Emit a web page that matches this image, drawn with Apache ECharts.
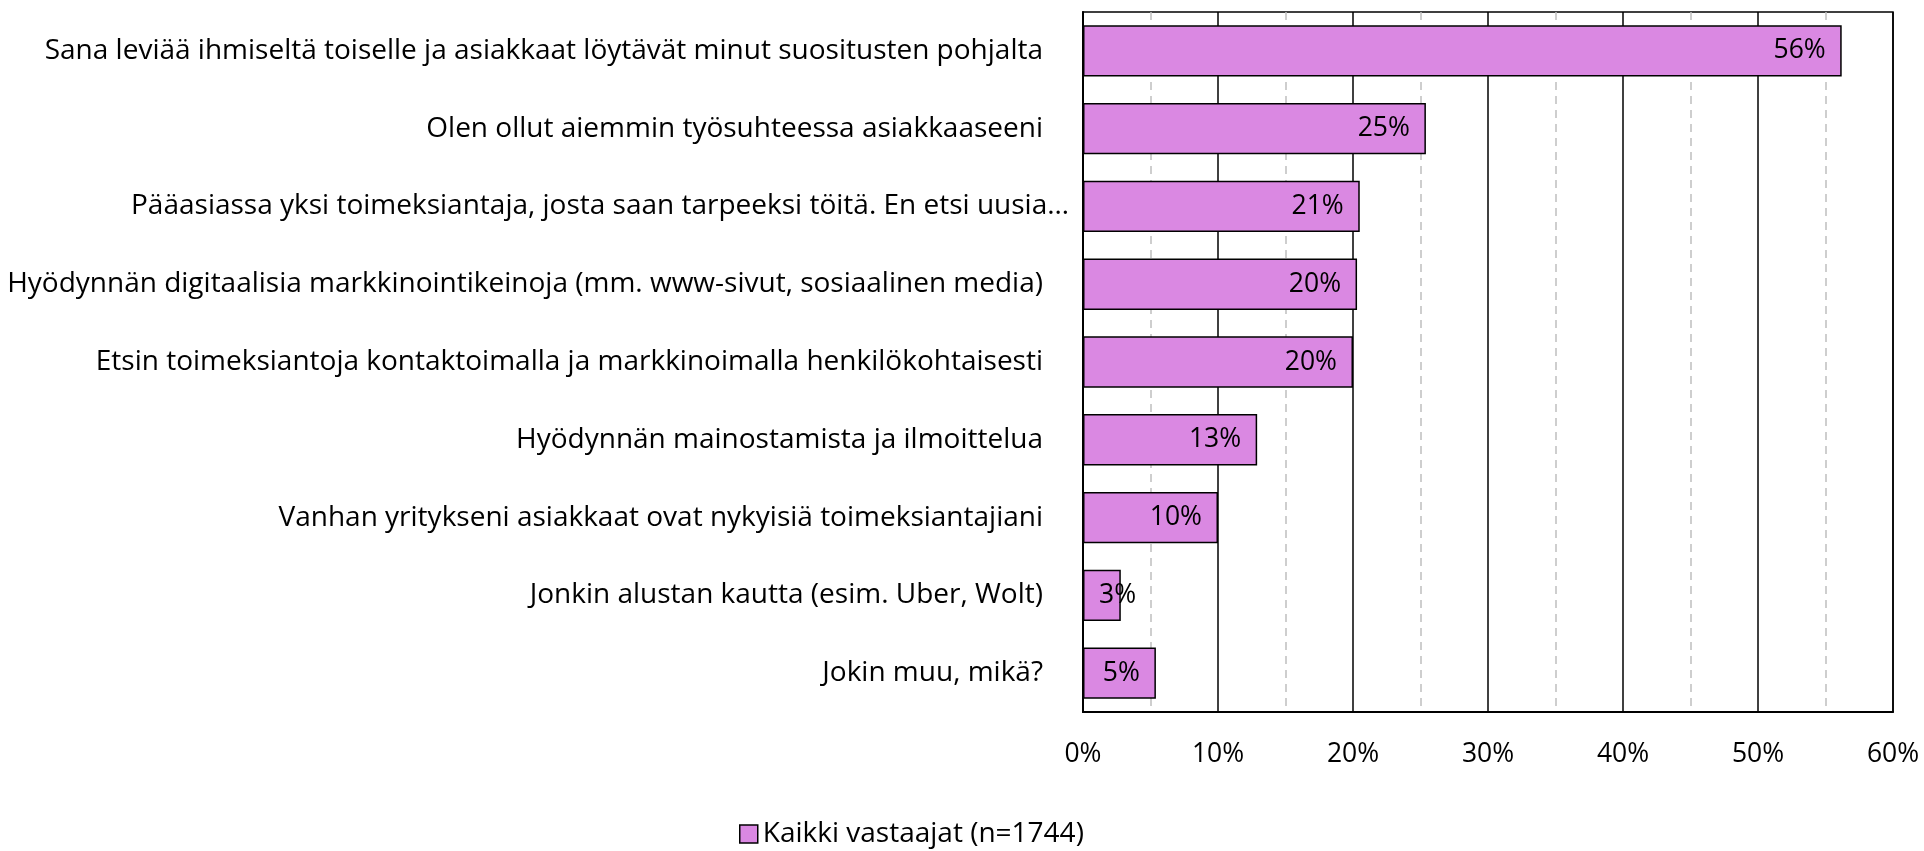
<!DOCTYPE html>
<html>
<head>
<meta charset="utf-8">
<script src="https://cdn.jsdelivr.net/npm/echarts@6/dist/echarts.min.js"></script>
<style>
html,body{margin:0;padding:0;background:#fff;}
#chart{width:1924px;height:851px;}
</style>
</head>
<body>
<div id="chart"></div>
<script>
var categories = [
  "Sana leviää ihmiseltä toiselle ja asiakkaat löytävät minut suositusten pohjalta",
  "Olen ollut aiemmin työsuhteessa asiakkaaseeni",
  "Pääasiassa yksi toimeksiantaja, josta saan tarpeeksi töitä. En etsi uusia…",
  "Hyödynnän digitaalisia markkinointikeinoja (mm. www-sivut, sosiaalinen media)",
  "Etsin toimeksiantoja kontaktoimalla ja markkinoimalla henkilökohtaisesti",
  "Hyödynnän mainostamista ja ilmoittelua",
  "Vanhan yritykseni asiakkaat ovat nykyisiä toimeksiantajiani",
  "Jonkin alustan kautta (esim. Uber, Wolt)",
  "Jokin muu, mikä?"
];
var values = [56.2, 25.4, 20.5, 20.3, 20.0, 12.9, 10.0, 2.8, 5.4];
var valueLabels = ["56%", "25%", "21%", "20%", "20%", "13%", "10%", "3%", "5%"];
var seriesName = "Kaikki vastaajat (n=1744)";
var xTicks = ["0%", "10%", "20%", "30%", "40%", "50%", "60%"];

var FONT = "Open Sans";
var FS = 26.5;
var FS_CAT = 28;
var chart = echarts.init(document.getElementById('chart'), null, {renderer: 'canvas'});

var data = values.map(function (v) {
  var item = {value: v};
  if (v < 4) {
    item.label = {position: 'insideLeft', distance: 16};
  }
  return item;
});

chart.setOption({
  animation: false,
  backgroundColor: '#ffffff',
  textStyle: {fontFamily: FONT},
  grid: {
    left: 1083, right: 31, top: 12, bottom: 139,
    show: true, borderColor: '#000', borderWidth: 1.5
  },
  legend: {
    left: 734, top: 815,
    itemWidth: 18, itemHeight: 18, itemGap: 8,
    icon: 'rect',
    textStyle: {fontFamily: FONT, fontSize: 28, color: '#000'},
    data: [{name: seriesName, itemStyle: {borderColor: '#000', borderWidth: 1.5}}]
  },
  xAxis: {
    type: 'value', min: 0, max: 60, interval: 10,
    axisLine: {show: true, lineStyle: {color: '#000', width: 2}},
    axisTick: {show: false},
    axisLabel: {
      fontFamily: FONT, fontSize: FS, color: '#000', margin: 29,
      formatter: function (v) { return xTicks[Math.round(v / 10)]; }
    },
    splitLine: {show: true, lineStyle: {color: '#000', width: 1.5}},
    minorTick: {show: false, splitNumber: 2},
    minorSplitLine: {show: true, lineStyle: {color: '#bfbfbf', width: 1.5, type: [8, 6]}}
  },
  yAxis: {
    type: 'category', inverse: true, data: categories,
    axisLine: {show: true, lineStyle: {color: '#000', width: 2}},
    axisTick: {show: false},
    axisLabel: {
      fontFamily: FONT, fontSize: FS_CAT, color: '#000', margin: 14,
      formatter: function (v) {
        return /…$/.test(v) ? '{e|' + v + '}' : '{n|' + v + '}';
      },
      rich: {
        n: {fontFamily: FONT, fontSize: FS_CAT, color: '#000', padding: [0, 26, 0, 0]},
        e: {fontFamily: FONT, fontSize: FS_CAT, color: '#000', padding: [0, 0, 0, 0]}
      }
    }
  },
  series: [{
    name: seriesName,
    type: 'bar',
    data: data,
    barCategoryGap: '34%',
    itemStyle: {color: '#DA88E2', borderColor: '#000', borderWidth: 1.5},
    label: {
      show: true, position: 'insideRight', distance: 16,
      fontFamily: FONT, fontSize: FS, color: '#000',
      formatter: function (p) { return valueLabels[p.dataIndex]; }
    }
  }]
});
</script>
</body>
</html>
